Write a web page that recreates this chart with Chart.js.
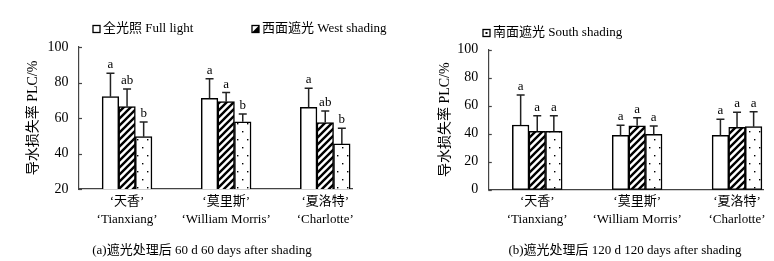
<!DOCTYPE html>
<html>
<head>
<meta charset="utf-8">
<script src="https://cdn.jsdelivr.net/npm/chart.js@4.4.1/dist/chart.umd.min.js"></script>
<style>
  body { margin: 0; background: #fff; }
  #wrap { position: relative; width: 774px; height: 261px; }
  canvas { position: absolute; top: 0; }
</style>
</head>
<body>
<div id="wrap">
  <canvas id="chartA" width="387" height="261" style="left:0"></canvas>
  <canvas id="chartB" width="387" height="261" style="left:387px"></canvas>
</div>
<script>
// categories
const namesCn = ['天香', '莫里斯', '夏洛特'];
const namesEn = ['Tianxiang', 'William Morris', 'Charlotte'];
const seriesNames = ['全光照 Full light', '西面遮光 West shading', '南面遮光 South shading'];

// (a) 60 d after shading
const fullA = [72.0, 71.1, 66.0];
const westA = [66.4, 69.2, 57.4];
const southA = [49.5, 57.9, 45.4];
const errFullA = [13.2, 11.0, 10.7];
const errWestA = [9.9, 5.1, 6.6];
const errSouthA = [8.2, 4.4, 8.8];
const sigFullA = ['a', 'a', 'a'];
const sigWestA = ['ab', 'a', 'ab'];
const sigSouthA = ['b', 'b', 'b'];
const yTicksA = [20, 40, 60, 80, 100];

// (b) 120 d after shading
const fullB = [46.2, 38.8, 38.8];
const westB = [41.7, 45.7, 44.6];
const southB = [41.7, 39.5, 45.0];
const errFullB = [21.4, 7.2, 11.5];
const errWestB = [11.2, 5.7, 10.7];
const errSouthB = [11.2, 6.0, 10.7];
const sigFullB = ['a', 'a', 'a'];
const sigWestB = ['a', 'a', 'a'];
const sigSouthB = ['a', 'a', 'a'];
const yTicksB = [0, 20, 40, 60, 80, 100];

const FONT = "'Liberation Serif', 'Noto Sans CJK SC', serif";

// diagonal hatch for west shading
function hatchPattern(ctx) {
    const c = document.createElement('canvas');
    c.width = 7; c.height = 7;
    const g = c.getContext('2d');
    g.fillStyle = '#fff';
    g.fillRect(0, 0, 7, 7);
    g.strokeStyle = '#000';
    g.lineWidth = 2.4;
    g.beginPath();
    g.moveTo(-2, 9); g.lineTo(9, -2);
    g.moveTo(-2, 2); g.lineTo(2, -2);
    g.moveTo(5, 9); g.lineTo(9, 5);
    g.stroke();
    return ctx.createPattern(c, 'repeat');
}

// sparse dots for south shading
function dotPattern(ctx) {
    const c = document.createElement('canvas');
    c.width = 10; c.height = 16;
    const g = c.getContext('2d');
    g.fillStyle = '#fff';
    g.fillRect(0, 0, 10, 16);
    g.fillStyle = '#000';
    g.fillRect(2, 3, 1.4, 1.4);
    g.fillRect(7, 11, 1.4, 1.4);
    return ctx.createPattern(c, 'repeat');
}

function toPoints(arr) {
    return arr.map((v, i) => ({ x: i, y: v }));
}

// error bars, letters, labels, legend, titles
const decorPlugin = {
    id: 'decor',
    afterDatasetsDraw(chart) {
        const ctx = chart.ctx;
        const yScale = chart.scales.y;
        ctx.save();
        chart.data.datasets.forEach((ds, di) => {
            const meta = chart.getDatasetMeta(di);
            meta.data.forEach((bar, i) => {
                const top = yScale.getPixelForValue(ds.data[i].y + ds.errors[i]);
                ctx.strokeStyle = '#222';
                ctx.lineWidth = 1.5;
                ctx.beginPath();
                ctx.moveTo(bar.x, bar.y);
                ctx.lineTo(bar.x, top);
                ctx.moveTo(bar.x - 4, top);
                ctx.lineTo(bar.x + 4, top);
                ctx.stroke();
                ctx.fillStyle = '#000';
                ctx.font = '13px ' + FONT;
                ctx.textAlign = 'center';
                ctx.textBaseline = 'alphabetic';
                ctx.fillText(ds.sig[i], bar.x, top - 5);
            });
        });
        ctx.restore();
    },
    afterDraw(chart) {
        const ctx = chart.ctx;
        const o = chart.options.plugins.decor;
        const area = chart.chartArea;
        const yScale = chart.scales.y;
        const xScale = chart.scales.x;
        ctx.save();
        // inner tick marks
        ctx.strokeStyle = '#444';
        ctx.lineWidth = 1.2;
        yScale.ticks.forEach(t => {
            const y = Math.round(yScale.getPixelForValue(t.value)) + 0.5;
            ctx.beginPath();
            ctx.moveTo(area.left, y);
            ctx.lineTo(area.left + 3.5, y);
            ctx.stroke();
        });
        ctx.fillStyle = '#000';
        // category labels
        ctx.font = '13px ' + FONT;
        ctx.textAlign = 'center';
        ctx.textBaseline = 'middle';
        namesCn.forEach((n, i) => {
            const x = xScale.getPixelForValue(i);
            ctx.fillText('\u2018' + n + '\u2019', x, 202);
            ctx.fillText('\u2018' + namesEn[i] + '\u2019', x, 219.5);
        });
        // caption
        ctx.fillText(o.caption, o.captionX, 251);
        // y title
        ctx.save();
        ctx.translate(o.titleX, (area.top + area.bottom) / 2);
        ctx.rotate(-Math.PI / 2);
        ctx.font = '14px ' + FONT;
        ctx.fillText('导水损失率 PLC/%', 0, 0);
        ctx.restore();
        // legend
        ctx.font = '13px ' + FONT;
        ctx.textAlign = 'left';
        o.legend.forEach(item => {
            const bx = item.x, by = item.y - 3.5;
            ctx.fillStyle = '#fff';
            ctx.fillRect(bx, by, 7, 7);
            ctx.fillStyle = '#000';
            if (item.kind === 'hatch') {
                ctx.beginPath();
                ctx.moveTo(bx + 7, by);
                ctx.lineTo(bx + 7, by + 7);
                ctx.lineTo(bx, by + 7);
                ctx.closePath();
                ctx.fill();
            } else if (item.kind === 'dots') {
                ctx.fillRect(bx + 2.5, by + 2.5, 2, 2);
            }
            ctx.strokeStyle = '#000';
            ctx.lineWidth = 1.3;
            ctx.strokeRect(bx, by, 7, 7);
            ctx.fillText(item.text, bx + 10, item.y);
        });
        ctx.restore();
    }
};

function makeChart(id, d) {
    const ctx = document.getElementById(id).getContext('2d');
    const fills = ['#fff', hatchPattern(ctx), dotPattern(ctx)];
    const values = [d.full, d.west, d.south];
    const errs = [d.errFull, d.errWest, d.errSouth];
    const sigs = [d.sigFull, d.sigWest, d.sigSouth];
    return new Chart(ctx, {
        type: 'bar',
        data: {
            datasets: values.map((v, k) => ({
                label: seriesNames[k],
                data: toPoints(v),
                errors: errs[k],
                sig: sigs[k],
                backgroundColor: fills[k],
                borderColor: '#000',
                borderWidth: 1.5,
                borderSkipped: false,
                barThickness: 16.6
            }))
        },
        options: {
            responsive: false,
            animation: false,
            layout: { padding: { left: 0, right: d.padRight, top: d.top, bottom: 0 } },
            scales: {
                x: {
                    type: 'linear',
                    min: -0.49,
                    max: d.xMax,
                    offset: false,
                    grid: { display: false, offset: false, drawTicks: false },
                    border: { display: true, color: '#444', width: 1.2 },
                    ticks: { display: false },
                    afterFit: s => { s.height = d.xHeight; }
                },
                y: {
                    min: d.yTicks[0],
                    max: d.yTicks[d.yTicks.length - 1],
                    grid: { display: false, drawTicks: false },
                    border: { display: true, color: '#444', width: 1.2 },
                    afterBuildTicks: s => { s.ticks = d.yTicks.map(v => ({ value: v })); },
                    ticks: {
                        padding: 10,
                        color: '#000',
                        font: { family: FONT, size: 14 }
                    },
                    afterFit: s => { s.width = d.yWidth; }
                }
            },
            plugins: {
                legend: { display: false },
                tooltip: { enabled: false },
                decor: {
                    caption: d.caption,
                    captionX: d.captionX,
                    titleX: d.titleX,
                    legend: d.legend
                }
            }
        },
        plugins: [decorPlugin]
    });
}

makeChart('chartA', {
    full: fullA, west: westA, south: southA,
    errFull: errFullA, errWest: errWestA, errSouth: errSouthA,
    sigFull: sigFullA, sigWest: sigWestA, sigSouth: sigSouthA,
    yTicks: yTicksA,
    top: 47, padRight: 35, xHeight: 72, yWidth: 78.5, xMax: 2.27,
    titleX: 33,
    caption: '(a)遮光处理后 60 d 60 days after shading', captionX: 202,
    legend: [
        { x: 93, y: 29, kind: 'empty', text: seriesNames[0] },
        { x: 252, y: 29, kind: 'hatch', text: seriesNames[1] }
    ]
});

makeChart('chartB', {
    full: fullB, west: westB, south: southB,
    errFull: errFullB, errWest: errWestB, errSouth: errSouthB,
    sigFull: sigFullB, sigWest: sigWestB, sigSouth: sigSouthB,
    yTicks: yTicksB,
    top: 49.7, padRight: 11, xHeight: 71.3, yWidth: 101.3, xMax: 2.26,
    titleX: 58,
    caption: '(b)遮光处理后 120 d 120 days after shading', captionX: 238,
    legend: [
        { x: 96, y: 33, kind: 'dots', text: seriesNames[2] }
    ]
});
</script>
</body>
</html>
